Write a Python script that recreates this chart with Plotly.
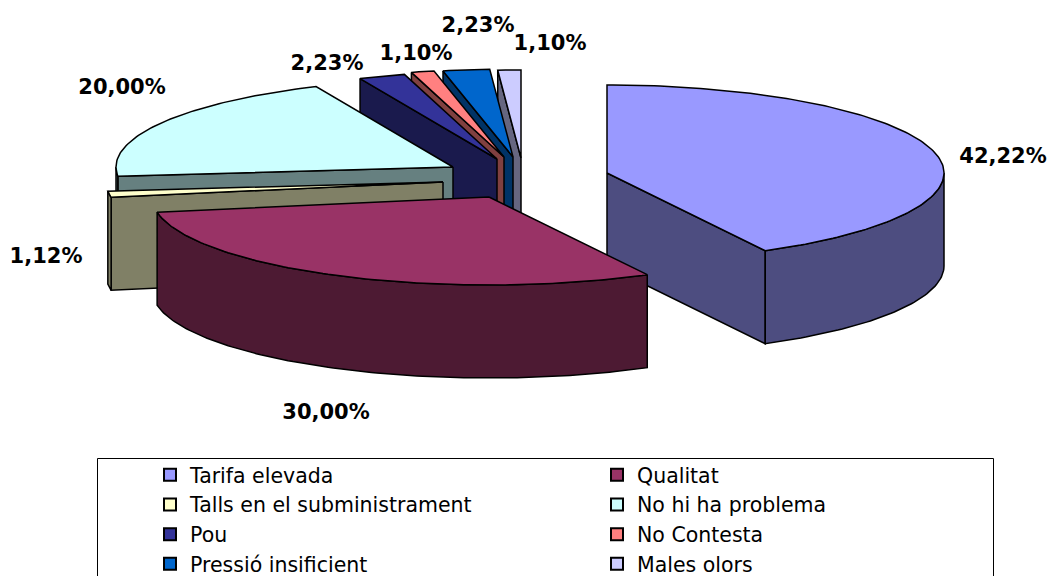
import math
import plotly.graph_objects as go

categories = ["Tarifa elevada", "Qualitat", "Talls en el subministrament", "No hi ha problema",
              "Pou", "No Contesta", "Pressió insificient", "Males olors"]
values = [42.22, 30.00, 1.12, 20.00, 2.23, 1.10, 2.23, 1.10]
top_colors = ["#9999FF", "#993366", "#FFFFCC", "#CCFFFF", "#333399", "#FF8080", "#0066CC", "#CCCCFF"]
side_colors = ["#4D4D80", "#4D1A33", "#808066", "#668080", "#1A1A4D", "#804040", "#003366", "#666680"]

# projection of the exploded 3-D pie onto the pixel-scaled axes
centers = [(607, 173), (489, 197), (443, 182), (453, 167), (497, 159), (504, 157), (513, 157), (521, 158)]
RX, RY, DEPTH = 337, 88, 93
label_pos = [(1003, 158), (326, 414), (46, 258), (122, 89), (327, 65), (416, 55), (478, 27), (550, 45)]
draw_order = [7, 6, 5, 4, 3, 2, 0, 1]

start = []
acc = 0.0
for v in values:
    start.append(acc)
    acc += v * 3.6


def pt(c, deg, dz=0.0):
    a = math.radians(deg)
    return c[0] + RX * math.sin(a), c[1] - RY * math.cos(a) + dz


def arc(c, a0, a1, dz=0.0, step=1.0):
    n = max(2, int(abs(a1 - a0) / step) + 1)
    return [pt(c, a0 + (a1 - a0) * i / (n - 1), dz) for i in range(n)]


fig = go.Figure()


def poly(points, color):
    xs = [p[0] for p in points] + [points[0][0]]
    ys = [p[1] for p in points] + [points[0][1]]
    fig.add_trace(go.Scatter(x=xs, y=ys, mode="lines", fill="toself", fillcolor=color,
                             line=dict(color="black", width=1.5), showlegend=False, hoverinfo="skip"))


for i in draw_order:
    c = centers[i]
    a0 = start[i]
    a1 = a0 + values[i] * 3.6
    # radial wall facing the viewer
    if a1 <= 180:
        p = pt(c, a1)
        poly([c, p, (p[0], p[1] + DEPTH), (c[0], c[1] + DEPTH)], side_colors[i])
    elif a0 >= 180:
        p = pt(c, a0)
        poly([c, p, (p[0], p[1] + DEPTH), (c[0], c[1] + DEPTH)], side_colors[i])
    # outer wall
    lo, hi = max(a0, 90), min(a1, 270)
    if hi > lo:
        poly(arc(c, lo, hi) + arc(c, hi, lo, DEPTH), side_colors[i])
    # top face
    poly([c] + arc(c, a0, a1), top_colors[i])

for name, col in zip(categories, top_colors):
    fig.add_trace(go.Scatter(x=[None], y=[None], mode="markers", name=name,
                             marker=dict(symbol="square", size=14, color=col,
                                         line=dict(color="black", width=1.5)),
                             hoverinfo="skip"))

fig.add_trace(go.Scatter(x=[p[0] for p in label_pos], y=[p[1] for p in label_pos], mode="text",
                         text=[f"{v:.2f}".replace(".", ",") + "%" for v in values],
                         textposition="middle center", showlegend=False, hoverinfo="skip",
                         textfont=dict(family="DejaVu Sans", size=21, color="black", weight="bold")))

fig.add_shape(type="rect", x0=97.5, x1=993.5, y0=458.5, y1=580, xref="x", yref="y",
              line=dict(color="black", width=1), fillcolor="white", layer="below")

fig.update_layout(
    width=1052, height=576, margin=dict(l=0, r=0, t=0, b=0, autoexpand=False),
    paper_bgcolor="white", plot_bgcolor="white",
    xaxis=dict(range=[0, 1052], visible=False, fixedrange=True),
    yaxis=dict(range=[576, 0], visible=False, fixedrange=True),
    font=dict(family="DejaVu Sans", color="black"),
    legend=dict(orientation="h", x=150 / 1052, y=1 - 455 / 576, xanchor="left", yanchor="top",
                font=dict(size=20.5, family="DejaVu Sans"), bgcolor="rgba(0,0,0,0)",
                entrywidth=402, entrywidthmode="pixels", itemsizing="constant",
                traceorder="normal", itemwidth=30),
)
fig.write_html("out.html", config={"displayModeBar": False},
               post_script="document.body.style.margin='0';document.documentElement.style.overflow='hidden';")
